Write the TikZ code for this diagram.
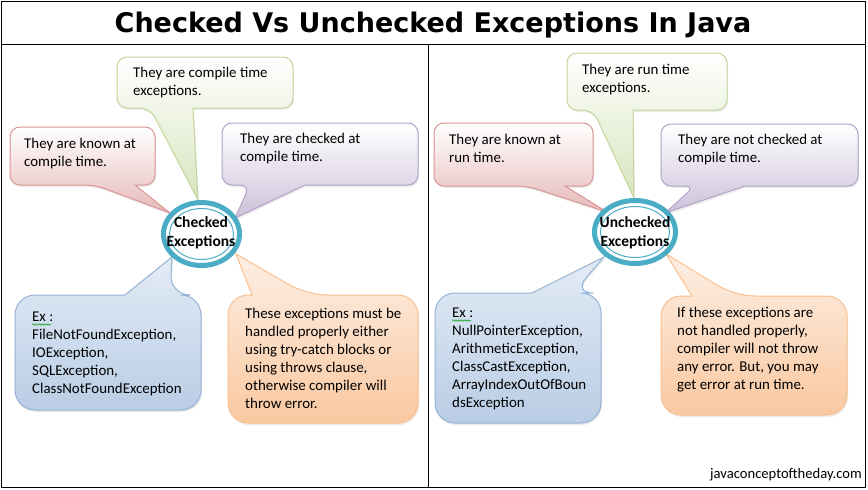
\documentclass[tikz,border=0pt]{standalone}
\usepackage{fontspec}
\setmainfont{Carlito}
\newfontfamily\titlefont{DejaVu Sans}
\usetikzlibrary{shapes.geometric,shadows,decorations.pathmorphing}
\definecolor{gbor}{HTML}{C3D69B}\definecolor{gfil}{HTML}{D7E4BD}
\definecolor{rbor}{HTML}{D99694}\definecolor{rfil}{HTML}{E6B9B8}
\definecolor{pbor}{HTML}{B3A2C7}\definecolor{pfil}{HTML}{CCC1DA}
\definecolor{bbor}{HTML}{95B3D7}\definecolor{btop}{HTML}{E4ECF6}\definecolor{bfil}{HTML}{B9CDE5}
\definecolor{obor}{HTML}{FAC090}\definecolor{otop}{HTML}{FDEFE4}\definecolor{ofil}{HTML}{FAC8A0}
\definecolor{circ}{HTML}{4BACC6}
\newcommand\lines[1]{\begin{tabular}[t]{@{}l@{}}#1\end{tabular}}
\tikzset{
  shad/.style={drop shadow={shadow xshift=1pt,shadow yshift=-2pt,opacity=0.15,fill=black!50}},
  calG/.style={draw=gbor,line width=1pt,top color=white,bottom color=gfil,shad},
  calR/.style={draw=rbor,line width=1pt,top color=white,bottom color=rfil,shad},
  calP/.style={draw=pbor,line width=1pt,top color=white,bottom color=pfil,shad},
  calB/.style={draw=bbor,line width=1pt,top color=btop,bottom color=bfil,shad},
  calO/.style={draw=obor,line width=1pt,top color=otop,bottom color=ofil,shad},
  txt/.style={anchor=base west,inner sep=0pt,font=\fontsize{14.9}{18}\selectfont},
  ctxt/.style={anchor=base,inner sep=0pt,font=\bfseries\fontsize{15.5}{19}\selectfont},
  ring/.style={ellipse,draw=circ,line width=5pt,fill=white,inner sep=0pt},
  thinring/.style={draw=circ,line width=1pt},
  wavy/.style={draw=green!60!black,line width=0.5pt,decorate,decoration={snake,amplitude=0.8pt,segment length=3pt}}
}
\begin{document}
\begin{tikzpicture}[x=1pt,y=-1pt]
\useasboundingbox (0,0) rectangle (868,490);
\fill[white] (0,0) rectangle (868,490);
\draw[line width=1pt] (1.5,1.5) rectangle (865.5,487.5);
\draw[line width=1pt] (1.5,44) -- (865.5,44);
\draw[line width=1pt] (428.5,44) -- (428.5,487.5);
\node[anchor=base,inner sep=0pt,font=\titlefont\bfseries\fontsize{27}{30}\selectfont] (title) at (433,32) {Checked Vs Unchecked Exceptions In Java};

% ---------- left panel ----------
\path[calG,rounded corners=10pt] (193,108) -- (293,108) -- (293,57) -- (117,57) -- (117,108) -- (150,108) [sharp corners] -- (198,200) -- cycle;
\path[calR,rounded corners=10pt] (135,185) -- (155,185) -- (155,127) -- (10,127) -- (10,185) -- (95,185) [sharp corners] -- (170,213) -- cycle;
\path[calP,rounded corners=10pt] (305,185) -- (418,185) -- (418,123) -- (222,123) -- (222,185) -- (250,185) [sharp corners] -- (235,218) -- cycle;
\path[calB,rounded corners=20pt] (125,295) -- (15,295) -- (15,410) -- (201,410) -- (201,295) -- (170,295) [sharp corners] -- (172,257) -- cycle;
\path[calO,rounded corners=20pt] (252,295) -- (228,295) -- (228,423) -- (418,423) -- (418,295) -- (307,295) [sharp corners] -- (236,254) -- cycle;

\node[ring,minimum width=76pt,minimum height=63pt] (c1) at (201.5,234) {};
\draw[thinring] (c1.center) ellipse [x radius=32pt,y radius=25.5pt];

\node[txt] (t1g) at (133,77) {\lines{They are compile time\\exceptions.}};
\node[txt] (t1r) at (24,148) {\lines{They are known at\\compile time.}};
\node[txt] (t1p) at (240,143) {\lines{They are checked at\\compile time.}};
\node[txt] (t1b) at (32,321) {\lines{Ex :\\FileNotFoundException,\\IOException,\\SQLException,\\ClassNotFoundException}};
\node[txt] (t1o) at (245,318) {\lines{These exceptions must be\\handled properly either\\using try-catch blocks or\\using throws clause,\\otherwise compiler will\\throw error.}};
\node[ctxt] (c1a) at (201,227) {Checked};
\node[ctxt] (c1b) at (201,246) {Exceptions};
\coordinate (w1a) at (32,324.5); \coordinate (w1b) at (51,324.5);
\path[wavy] (w1a) -- (w1b);

% ---------- right panel ----------
\path[calG,rounded corners=10pt] (633,110) -- (727,110) -- (727,53) -- (567,53) -- (567,110) -- (593,110) [sharp corners] -- (634,198) -- cycle;
\path[calR,rounded corners=10pt] (565,186) -- (593,186) -- (593,123) -- (434,123) -- (434,186) -- (527,186) [sharp corners] -- (607,212) -- cycle;
\path[calP,rounded corners=10pt] (745,186) -- (858,186) -- (858,124) -- (661,124) -- (661,186) -- (695,186) [sharp corners] -- (665,213) -- cycle;
\path[calB,rounded corners=20pt] (532,293) -- (435,293) -- (435,423) -- (601,423) -- (601,293) -- (573,293) [sharp corners] -- (604,257) -- cycle;
\path[calO,rounded corners=20pt] (692,296) -- (661,296) -- (661,415) -- (847,415) -- (847,296) -- (735,296) [sharp corners] -- (666,254) -- cycle;

\node[ring,minimum width=81pt,minimum height=63pt] (c2) at (635,232) {};
\draw[thinring] (c2.center) ellipse [x radius=34.5pt,y radius=25.5pt];

\node[txt] (t2g) at (582,74) {\lines{They are run time\\exceptions.}};
\node[txt] (t2r) at (449,144) {\lines{They are known at\\run time.}};
\node[txt] (t2p) at (678,144) {\lines{They are not checked at\\compile time.}};
\node[txt] (t2b) at (452,317) {\lines{Ex :\\NullPointerException,\\ArithmeticException,\\ClassCastException,\\ArrayIndexOutOfBoun\\dsException}};
\node[txt] (t2o) at (677,317) {\lines{If these exceptions are\\not handled properly,\\compiler will not throw\\any error. But, you may\\get error at run time.}};
\node[ctxt] (c2a) at (635,227) {Unchecked};
\node[ctxt] (c2b) at (635,246) {Exceptions};
\coordinate (w2a) at (452,320.5); \coordinate (w2b) at (471,320.5);
\path[wavy] (w2a) -- (w2b);

\node[anchor=base east,inner sep=0pt,font=\fontsize{14.6}{18}\selectfont] (foot) at (862,478) {javaconceptoftheday.com};
\end{tikzpicture}
\end{document}
